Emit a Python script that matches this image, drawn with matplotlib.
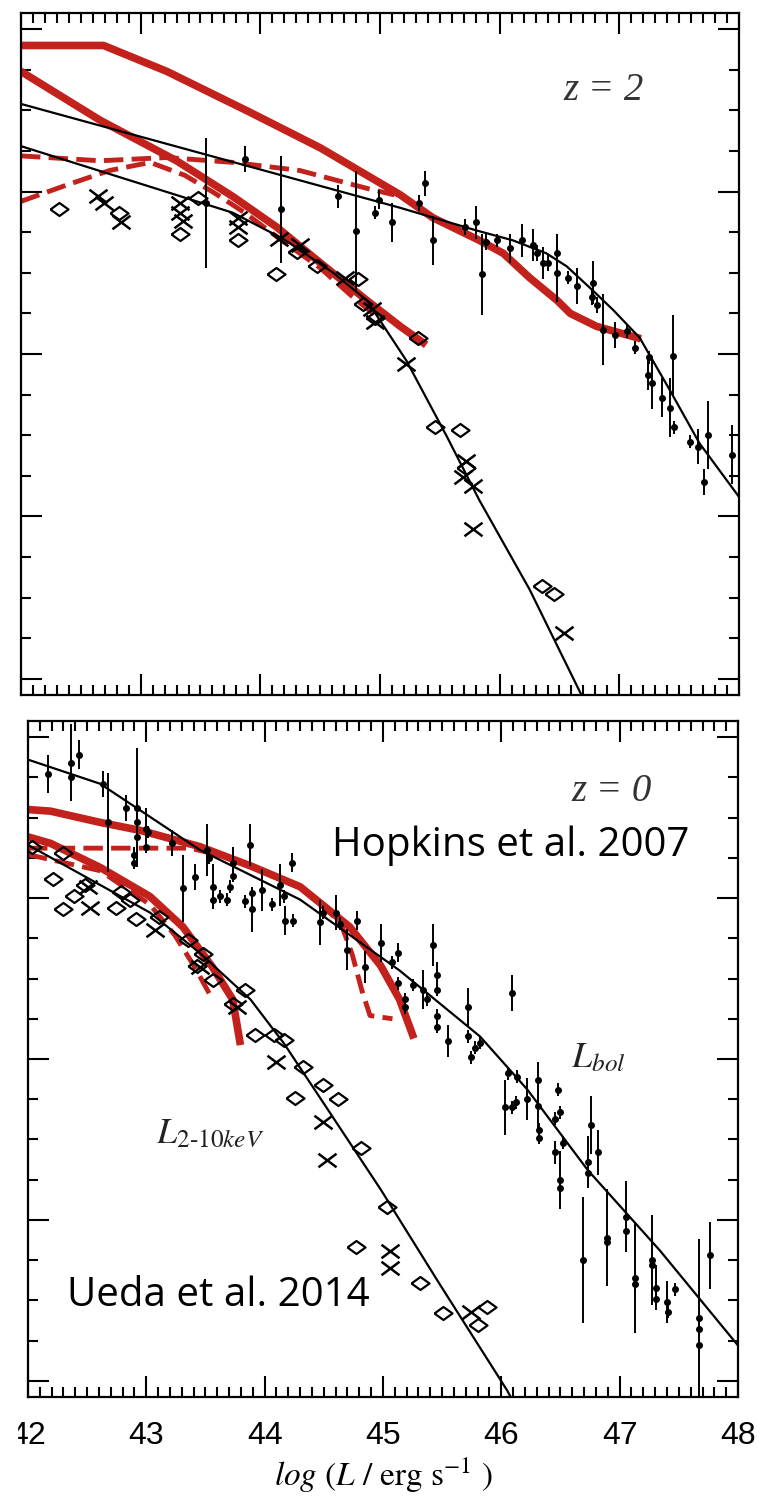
import numpy as np
import matplotlib.pyplot as plt
from matplotlib.path import Path
from matplotlib.patches import Rectangle
from matplotlib.ticker import MultipleLocator

plt.rcParams['mathtext.fontset'] = 'stix'

RED = '#c3211b'

# ---------------- z = 2 panel ----------------
top_hop_bol_x = [42.0, 42.69, 43.22, 43.91, 44.50, 45.17, 45.44, 45.83, 46.03, 46.25, 46.48, 46.59, 46.81, 47.15]
top_hop_bol_y = [-3.10, -3.10, -3.26, -3.51, -3.73, -4.02, -4.16, -4.30, -4.38, -4.53, -4.67, -4.75, -4.83, -4.90]
top_hop_bol_dash_x = [42.0, 42.66, 43.22, 43.77, 44.33, 44.89, 45.12]
top_hop_bol_dash_y = [-3.78, -3.81, -3.79, -3.82, -3.87, -3.98, -4.02]
top_hop_x_x = [42.0, 42.66, 43.30, 43.77, 44.14, 44.47, 44.89, 45.17, 45.36]
top_hop_x_y = [-3.26, -3.56, -3.81, -4.03, -4.22, -4.42, -4.67, -4.83, -4.93]
top_hop_x_dash_x = [42.0, 42.38, 42.74, 43.08, 43.37, 43.62, 43.87, 44.16, 44.50, 44.79, 44.96]
top_hop_x_dash_y = [-4.06, -3.96, -3.87, -3.82, -3.90, -4.01, -4.13, -4.29, -4.47, -4.66, -4.76]

top_fit_bol_x = [42.0, 45.17, 45.81, 46.11, 46.39, 46.56, 46.78, 46.95, 47.17, 47.42, 47.67, 48.0]
top_fit_bol_y = [-3.46, -4.10, -4.24, -4.30, -4.38, -4.46, -4.61, -4.73, -4.90, -5.22, -5.55, -5.88]
top_fit_x_x = [42.0, 43.77, 44.19, 44.61, 44.89, 45.22, 45.56, 45.83, 46.25, 46.75]
top_fit_x_y = [-3.72, -4.13, -4.29, -4.50, -4.67, -5.04, -5.51, -5.90, -6.45, -7.20]

top_dia_x = [42.32, 42.82, 43.33, 43.48, 43.81, 44.13, 44.31, 44.47, 44.82, 44.86, 44.96, 45.32,
             45.46, 45.67, 45.72, 46.35, 46.45]
top_dia_y = [-4.11, -4.13, -4.26, -4.04, -4.30, -4.51, -4.37, -4.46, -4.54, -4.69, -4.78, -4.90,
             -5.45, -5.47, -5.70, -6.43, -6.48]
top_crs_x = [42.64, 42.69, 42.84, 43.33, 43.33, 43.35, 43.81, 43.81, 44.16, 44.33, 44.71, 44.93,
             44.96, 45.22, 45.72, 45.69, 45.78, 45.78, 46.54]
top_crs_y = [-4.03, -4.07, -4.19, -4.07, -4.13, -4.18, -4.16, -4.22, -4.29, -4.33, -4.53, -4.72,
             -4.80, -5.06, -5.66, -5.76, -5.81, -6.08, -6.72]

top_bol_x = [43.55, 43.87, 44.17, 44.65, 44.80, 44.96, 44.99, 45.10, 45.33, 45.38, 45.44, 45.71,
             45.80, 45.85, 45.89, 45.98, 46.09, 46.19, 46.28, 46.31, 46.36, 46.40, 46.48, 46.48,
             46.57, 46.65, 46.77, 46.78, 46.81, 46.86, 46.96, 47.06, 47.13, 47.25, 47.45, 47.24,
             47.27, 47.36, 47.42, 47.46, 47.59, 47.66, 47.71, 47.74, 47.94]
top_bol_y = [-4.07, -3.80, -4.11, -4.03, -4.24, -4.13, -4.05, -4.19, -4.07, -3.95, -4.30, -4.22,
             -4.19, -4.51, -4.31, -4.30, -4.35, -4.30, -4.33, -4.38, -4.44, -4.44, -4.38, -4.50,
             -4.53, -4.58, -4.65, -4.56, -4.70, -4.85, -4.88, -4.86, -4.96, -5.02, -5.01, -5.13,
             -5.18, -5.27, -5.33, -5.45, -5.54, -5.57, -5.79, -5.50, -5.62]
top_bol_err = [0.40, 0.08, 0.33, 0.07, 0.37, 0.04, 0.06, 0.12, 0.05, 0.08, 0.15, 0.05,
               0.10, 0.25, 0.05, 0.04, 0.09, 0.10, 0.10, 0.05, 0.10, 0.05, 0.12, 0.18,
               0.04, 0.11, 0.05, 0.13, 0.05, 0.22, 0.08, 0.04, 0.04, 0.04, 0.25, 0.09,
               0.16, 0.12, 0.18, 0.04, 0.04, 0.11, 0.08, 0.21, 0.18]

# ---------------- z = 0 panel ----------------
bot_hop_bol_x = [42.0, 42.19, 42.61, 42.95, 43.45, 43.88, 44.30, 44.72, 44.98, 45.14, 45.25]
bot_hop_bol_y = [-3.45, -3.46, -3.53, -3.58, -3.68, -3.80, -3.93, -4.18, -4.42, -4.63, -4.85]
bot_hop_bol_dash_x = [42.0, 43.37, 43.71, 44.30, 44.64, 44.74, 44.82, 44.89, 45.08]
bot_hop_bol_dash_y = [-3.69, -3.69, -3.75, -3.93, -4.15, -4.35, -4.57, -4.73, -4.75]
bot_hop_x_x = [42.0, 42.19, 42.61, 43.03, 43.31, 43.56, 43.73, 43.79]
bot_hop_x_y = [-3.62, -3.66, -3.81, -3.99, -4.18, -4.43, -4.63, -4.89]
bot_hop_x_dash_x = [42.0, 42.61, 43.03, 43.24, 43.41, 43.56]
bot_hop_x_dash_y = [-3.73, -3.83, -4.04, -4.23, -4.43, -4.63]

bot_fit_bol_x = [42.0, 42.61, 43.45, 44.30, 45.14, 45.82, 46.22, 46.73, 47.34, 48.0]
bot_fit_bol_y = [-3.14, -3.29, -3.70, -4.01, -4.45, -4.86, -5.19, -5.69, -6.19, -6.78]
bot_fit_x_x = [42.0, 43.03, 43.45, 43.88, 44.16, 44.44, 44.98, 45.48, 46.05, 46.15]
bot_fit_x_y = [-3.67, -4.09, -4.34, -4.63, -4.90, -5.21, -5.81, -6.40, -7.06, -7.20]

bot_dia_x = [42.03, 42.21, 42.30, 42.30, 42.39, 42.48, 42.74, 42.79, 42.86, 42.91, 43.11, 43.35,
             43.48, 43.43, 43.56, 43.83, 43.73, 43.92, 44.08, 44.16, 44.32, 44.49, 44.26, 44.62,
             44.81, 45.03, 44.77, 45.31, 45.51, 45.80, 45.88]
bot_dia_y = [-3.68, -3.88, -3.72, -4.07, -3.99, -3.92, -4.06, -3.96, -4.01, -4.13, -4.12, -4.26,
             -4.35, -4.42, -4.51, -4.57, -4.66, -4.85, -4.85, -4.88, -5.05, -5.16, -5.24, -5.25,
             -5.55, -5.92, -6.17, -6.39, -6.58, -6.65, -6.54]
bot_crs_x = [42.51, 42.52, 43.07, 43.45, 43.77, 44.10, 44.49, 44.53, 45.06, 45.06, 45.74]
bot_crs_y = [-3.93, -4.06, -4.20, -4.43, -4.68, -5.02, -5.39, -5.63, -6.19, -6.30, -6.57]

bot_bol_x = [42.17, 42.36, 42.36, 42.43, 42.63, 42.68, 42.83, 42.92, 42.92, 42.90, 42.90, 42.92,
             43.00, 43.01, 43.00, 43.22, 43.31, 43.41, 43.51, 43.53, 43.56, 43.56, 43.62, 43.68,
             43.71, 43.73, 43.73, 43.83, 43.88, 43.89, 43.89, 43.98, 44.06, 44.13, 44.16, 44.17,
             44.23, 44.24, 44.47, 44.49, 44.60, 44.64, 44.70, 44.78, 44.85, 44.98, 45.08, 45.13,
             45.13, 45.19, 45.19, 45.25, 45.34, 45.37, 45.42, 45.46, 45.46, 45.46, 45.46, 45.55,
             45.72, 45.72, 45.74, 45.78, 45.82, 46.06, 46.09, 46.13, 46.31, 46.48, 46.03, 46.09,
             46.12, 46.22, 46.31, 46.32, 46.32, 46.45, 46.45, 46.50, 46.50, 46.50, 46.52, 46.69,
             46.73, 46.73, 46.76, 46.82, 46.89, 46.89, 47.05, 47.05, 47.13, 47.13, 47.27, 47.27,
             47.31, 47.31, 47.40, 47.41, 47.47, 47.67, 47.67, 47.67, 47.76]
bot_bol_y = [-3.23, -3.16, -3.25, -3.11, -3.29, -3.53, -3.44, -3.44, -3.53, -3.73, -3.78, -3.62,
             -3.57, -3.59, -3.68, -3.66, -3.94, -3.87, -3.70, -3.75, -3.93, -4.01, -3.99, -4.01,
             -3.93, -3.86, -3.78, -4.02, -3.67, -3.97, -4.07, -3.95, -4.04, -3.92, -3.99, -4.14,
             -3.78, -4.14, -4.15, -4.09, -4.09, -4.16, -4.32, -4.14, -4.43, -4.28, -4.40, -4.34,
             -4.53, -4.63, -4.68, -4.54, -4.57, -4.63, -4.29, -4.48, -4.57, -4.73, -4.80, -4.89,
             -4.68, -4.86, -4.99, -4.93, -4.90, -5.09, -4.59, -5.11, -5.13, -5.19, -5.30, -5.30,
             -5.27, -5.25, -5.29, -5.44, -5.49, -5.37, -5.58, -5.33, -5.75, -5.80, -5.52, -6.25,
             -5.64, -5.71, -5.41, -5.58, -6.11, -6.14, -5.98, -6.07, -6.36, -6.40, -6.25, -6.28,
             -6.42, -6.49, -6.51, -6.57, -6.43, -6.61, -6.68, -6.78, -6.22]
bot_bol_err = [0.12, 0.24, 0.03, 0.09, 0.08, 0.31, 0.08, 0.37, 0.05, 0.05, 0.04, 0.05,
               0.13, 0.04, 0.04, 0.08, 0.21, 0.08, 0.16, 0.04, 0.14, 0.04, 0.04, 0.04,
               0.04, 0.04, 0.10, 0.04, 0.13, 0.04, 0.14, 0.13, 0.04, 0.13, 0.04, 0.09,
               0.06, 0.04, 0.14, 0.04, 0.11, 0.04, 0.13, 0.06, 0.10, 0.12, 0.04, 0.06,
               0.04, 0.04, 0.04, 0.04, 0.12, 0.04, 0.13, 0.08, 0.04, 0.04, 0.04, 0.10,
               0.12, 0.04, 0.04, 0.04, 0.04, 0.04, 0.11, 0.04, 0.11, 0.04, 0.17, 0.04,
               0.04, 0.13, 0.17, 0.04, 0.04, 0.04, 0.07, 0.04, 0.18, 0.04, 0.04, 0.39,
               0.16, 0.04, 0.18, 0.14, 0.30, 0.04, 0.22, 0.04, 0.34, 0.04, 0.28, 0.04,
               0.14, 0.04, 0.13, 0.04, 0.04, 0.49, 0.04, 0.04, 0.21]

# wide markers (the original figure is stretched horizontally)
DIAMOND = Path([(-1, 0), (0, 0.72), (1, 0), (0, -0.72), (-1, 0)])
CROSS = Path([(-1, -0.75), (1, 0.75), (-1, 0.75), (1, -0.75)],
             [Path.MOVETO, Path.LINETO, Path.MOVETO, Path.LINETO])


def style_axes(ax, show_xlabels):
    ax.set_xlim(42, 48)
    ax.set_ylim(-7.10, -2.90)
    ax.xaxis.set_major_locator(MultipleLocator(1))
    ax.xaxis.set_minor_locator(MultipleLocator(0.1))
    ax.yaxis.set_major_locator(MultipleLocator(1))
    ax.yaxis.set_minor_locator(MultipleLocator(0.25))
    ax.tick_params(which='both', direction='in', top=True, right=True,
                   width=1.5, labelleft=False, labelbottom=show_xlabels)
    ax.tick_params(which='major', length=15)
    ax.tick_params(which='minor', length=7.5)
    for s in ax.spines.values():
        s.set_linewidth(1.6)
    if show_xlabels:
        for lab in ax.get_xticklabels():
            lab.set_fontfamily('Liberation Sans')
            lab.set_fontsize(23)
        ax.tick_params(axis='x', pad=17)


def draw_panel(ax, hb, hbd, hx, hxd, fb, fx, dia, crs, bol):
    ax.plot(*hb, color=RED, lw=5.5, zorder=2)
    ax.plot(*hx, color=RED, lw=5.5, zorder=2)
    ax.plot(*hbd, color=RED, lw=3.5, dashes=(4, 1.7), zorder=2)
    ax.plot(*hxd, color=RED, lw=3.5, dashes=(4, 1.7), zorder=2)
    ax.plot(*dia, ls='none', marker=DIAMOND, ms=13, mfc='none', mec='k', mew=1.6, zorder=3)
    ax.plot(*crs, ls='none', marker=CROSS, ms=13, mec='k', mew=1.8, zorder=3)
    ax.errorbar(bol[0], bol[1], yerr=bol[2], fmt='o', ms=4, color='k',
                elinewidth=1.4, capsize=0, zorder=4)
    ax.plot(*fb, color='k', lw=1.6, zorder=5)
    ax.plot(*fx, color='k', lw=1.6, zorder=5)


fig = plt.figure(figsize=(7.71, 14.97), dpi=100)

ax1 = fig.add_axes([0.0272, 0.53574, 0.9313, 0.45558])
draw_panel(ax1,
           (top_hop_bol_x, top_hop_bol_y), (top_hop_bol_dash_x, top_hop_bol_dash_y),
           (top_hop_x_x, top_hop_x_y), (top_hop_x_dash_x, top_hop_x_dash_y),
           (top_fit_bol_x, top_fit_bol_y), (top_fit_x_x, top_fit_x_y),
           (top_dia_x, top_dia_y), (top_crs_x, top_crs_y),
           (top_bol_x, top_bol_y, top_bol_err))
style_axes(ax1, False)
ax1.text(0.755, 0.872, 'z = 2', transform=ax1.transAxes, fontsize=28,
         family='Liberation Serif', style='italic', color='#333333')

ax2 = fig.add_axes([0.0363, 0.06680, 0.9209, 0.45157])
draw_panel(ax2,
           (bot_hop_bol_x, bot_hop_bol_y), (bot_hop_bol_dash_x, bot_hop_bol_dash_y),
           (bot_hop_x_x, bot_hop_x_y), (bot_hop_x_dash_x, bot_hop_x_dash_y),
           (bot_fit_bol_x, bot_fit_bol_y), (bot_fit_x_x, bot_fit_x_y),
           (bot_dia_x, bot_dia_y), (bot_crs_x, bot_crs_y),
           (bot_bol_x, bot_bol_y, bot_bol_err))
style_axes(ax2, True)
ax2.text(0.766, 0.882, 'z = 0', transform=ax2.transAxes, fontsize=28,
         family='Liberation Serif', style='italic', color='#333333')
ax2.text(0.428, 0.800, 'Hopkins et al. 2007', transform=ax2.transAxes,
         fontsize=29, family='Open Sans', color='k', zorder=6)
ax2.text(0.055, 0.135, 'Ueda et al. 2014', transform=ax2.transAxes,
         fontsize=29, family='Open Sans', color='k', zorder=6)
ax2.text(0.765, 0.488, r'$L_{bol}$', transform=ax2.transAxes, fontsize=26, color='#222222')
ax2.text(0.18, 0.375, r'$L_{\mathit{2}\text{-}\mathit{10keV}}$', transform=ax2.transAxes,
         fontsize=26, color='#222222')
ax2.set_xlabel(r'$log\ (L\ /\ \mathrm{erg\ s^{-1}}\ )$', fontsize=24, labelpad=4)

# the reference image is cropped through the first tick label
fig.patches.append(Rectangle((0, 1 - 1455 / 1497), 17 / 771, 45 / 1497,
                             transform=fig.transFigure, color='white', zorder=10))

fig.savefig('out.png', dpi=100)
